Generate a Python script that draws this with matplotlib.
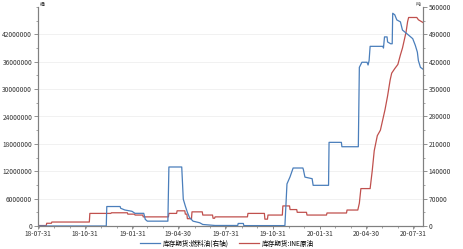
import matplotlib
matplotlib.use("Agg")
import matplotlib.pyplot as plt
import matplotlib.dates as mdates
import matplotlib.ticker as mticker
import pandas as pd

plt.rcParams['font.family'] = ['Noto Sans CJK SC', 'DejaVu Sans']

# INE crude oil futures inventory (left axis)
ine_dates = ["2018-07-31", "2018-08-16", "2018-08-17", "2018-08-26", "2018-08-27", "2018-11-08",
             "2018-11-09", "2018-12-20", "2018-12-21", "2019-01-21", "2019-01-22", "2019-02-04",
             "2019-02-05", "2019-02-20", "2019-02-21", "2019-04-11", "2019-04-12", "2019-04-27",
             "2019-04-28", "2019-05-13", "2019-05-14", "2019-05-17", "2019-05-18", "2019-05-26",
             "2019-05-27", "2019-06-16", "2019-06-17", "2019-07-06", "2019-07-07", "2019-07-10",
             "2019-07-11", "2019-09-12", "2019-09-13", "2019-10-15", "2019-10-16", "2019-10-21",
             "2019-10-22", "2019-11-19", "2019-11-20", "2019-12-03", "2019-12-04", "2019-12-17",
             "2019-12-18", "2020-01-05", "2020-01-06", "2020-02-13", "2020-02-14", "2020-03-23",
             "2020-03-24", "2020-04-14", "2020-04-17", "2020-04-20", "2020-05-08", "2020-05-12",
             "2020-05-16", "2020-05-22", "2020-05-28", "2020-06-03", "2020-06-06", "2020-06-11",
             "2020-06-16", "2020-06-19", "2020-06-25", "2020-07-01", "2020-07-06", "2020-07-10",
             "2020-07-14", "2020-07-17", "2020-07-20", "2020-07-22", "2020-08-07", "2020-08-10",
             "2020-08-19"]
ine_values = [100000, 100000, 600000, 600000, 870000, 870000,
              2760000, 2760000, 2900000, 2900000, 2600000, 2600000,
              2400000, 2400000, 2000000, 2000000, 2760000, 2760000,
              3330000, 3330000, 2600000, 2600000, 1600000, 1600000,
              3100000, 3100000, 2400000, 2400000, 1700000, 1700000,
              2000000, 2000000, 2760000, 2760000, 1500000, 1500000,
              2400000, 2400000, 4400000, 4400000, 3600000, 3600000,
              3000000, 3000000, 2400000, 2400000, 2850000, 2850000,
              3500000, 3500000, 5000000, 8200000, 8200000, 12000000,
              16500000, 19800000, 21000000, 24000000, 25500000, 28500000,
              32000000, 33500000, 34500000, 35400000, 37500000, 39000000,
              41000000, 42500000, 44800000, 45700000, 45700000, 45200000,
              44600000]

# Fuel oil futures inventory (right axis)
fo_dates = ["2018-07-31", "2018-12-11", "2018-12-12", "2019-01-07", "2019-01-08", "2019-01-16",
            "2019-01-30", "2019-02-05", "2019-02-22", "2019-02-25", "2019-03-01", "2019-04-10",
            "2019-04-12", "2019-05-07", "2019-05-10", "2019-05-14", "2019-05-18", "2019-05-22",
            "2019-05-29", "2019-06-11", "2019-06-17", "2019-07-11", "2019-08-24", "2019-08-25",
            "2019-09-04", "2019-09-05", "2019-11-24", "2019-11-28", "2019-12-04", "2019-12-10",
            "2019-12-29", "2019-12-30", "2020-01-02", "2020-01-16", "2020-01-18", "2020-02-17",
            "2020-02-18", "2020-03-13", "2020-03-14", "2020-04-15", "2020-04-17", "2020-04-22",
            "2020-05-02", "2020-05-04", "2020-05-06", "2020-05-08", "2020-06-02", "2020-06-03",
            "2020-06-05", "2020-06-10", "2020-06-11", "2020-06-17", "2020-06-20", "2020-06-21",
            "2020-06-25", "2020-06-29", "2020-07-06", "2020-07-10", "2020-07-22", "2020-07-30",
            "2020-08-04", "2020-08-08", "2020-08-10", "2020-08-14", "2020-08-19"]
fo_values = [0, 0, 49800, 49800, 45400, 41000,
             37600, 32400, 32400, 16900, 12400, 12400,
             150900, 150900, 68700, 51000, 35000, 22000,
             12400, 8300, 3900, 1300, 1300, 6500,
             6500, 1000, 1000, 107600, 125700, 148300,
             148300, 144000, 125000, 121000, 104000, 104000,
             213900, 213900, 202700, 202700, 405700, 418700,
             418700, 411700, 423000, 459400, 459400, 455000,
             483500, 483500, 470600, 466000, 466000, 544000,
             540000, 527000, 522000, 501000, 488000, 479000,
             462000, 444600, 423000, 405700, 401000]

x_ticks = ["2018-07-31", "2018-10-31", "2019-01-31", "2019-04-30", "2019-07-31",
           "2019-10-31", "2020-01-31", "2020-04-30", "2020-07-31"]
left_ticks = [0, 6000000, 12000000, 18000000, 24000000, 30000000, 36000000, 42000000]
right_ticks = [0, 70000, 140000, 210000, 280000, 350000, 420000, 490000, 560000]

label_fo = "库存期货:燃料油(右轴)"
label_ine = "库存期货:INE原油"

BLUE = "#4a7ebb"
RED = "#c0504d"
AXC = "#808080"

fig = plt.figure(figsize=(4.63, 2.49), dpi=100)
ax = fig.add_axes([38/463, 23/249, (423-38)/463, (242-23)/249])
ax2 = ax.twinx()

ln1, = ax2.plot(pd.to_datetime(fo_dates), fo_values, color=BLUE, lw=0.9)
ln2, = ax.plot(pd.to_datetime(ine_dates), ine_values, color=RED, lw=0.9)

ax.set_xlim(pd.Timestamp("2018-07-31"), pd.Timestamp("2020-08-19"))
ax.set_ylim(0, 48000000)
ax2.set_ylim(0, 560000)

ax.set_yticks(left_ticks)
ax.yaxis.set_minor_locator(mticker.MultipleLocator(3000000))
ax2.set_yticks(right_ticks)
ax2.yaxis.set_minor_locator(mticker.MultipleLocator(35000))
ax.yaxis.set_major_formatter(mticker.FuncFormatter(lambda v, p: f"{int(v)}"))
ax2.yaxis.set_major_formatter(mticker.FuncFormatter(lambda v, p: f"{int(v)}"))

ax.set_xticks(pd.to_datetime(x_ticks))
ax.xaxis.set_major_formatter(mdates.DateFormatter("%y-%m-%d"))
ax.xaxis.set_minor_locator(mdates.MonthLocator())

for a in (ax, ax2):
    for s in a.spines.values():
        s.set_color(AXC)
        s.set_linewidth(0.8)
    a.spines['top'].set_visible(False)
    a.tick_params(axis='y', which='major', labelsize=4.8, length=3, width=0.6,
                  color=AXC, labelcolor="#333333", pad=1.2)
    a.tick_params(axis='y', which='minor', length=1.5, width=0.5, color=AXC)
ax.tick_params(axis='x', which='major', labelsize=4.8, length=2, width=0.6,
               color=AXC, labelcolor="#333333", pad=0.6)
ax.tick_params(axis='x', which='minor', length=1.2, width=0.5, color=AXC)

ax.grid(axis='y', which='major', color="#ececec", lw=0.5)
ax.set_axisbelow(True)

fig.text(40/463, 1 - 5/249, "桶", fontsize=3.5, ha='left', va='center', color="#333333")
fig.text(420/463, 1 - 5/249, "吨", fontsize=3.5, ha='right', va='center', color="#333333")

fig.legend([ln1, ln2], [label_fo, label_ine], loc='center', bbox_to_anchor=(0.49, 0.022),
           ncol=2, frameon=False, fontsize=4.8, handlelength=3, columnspacing=1.5,
           handletextpad=0.4, borderpad=0, borderaxespad=0)

fig.savefig("out.png", dpi=100)
